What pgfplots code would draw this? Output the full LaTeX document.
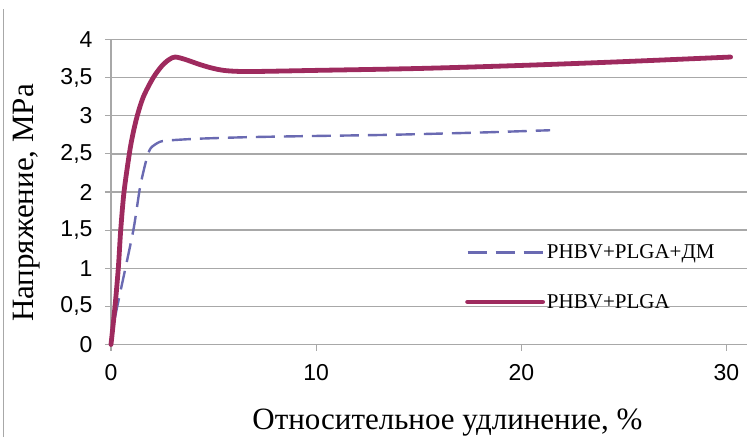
\documentclass[border=0pt]{standalone}
\usepackage{fontspec}
\setmainfont{Liberation Serif}
\newfontfamily\arialfont{Liberation Sans}
\usepackage{pgfplots}
\pgfplotsset{compat=1.18}

\definecolor{plgared}{HTML}{9E2A5E}
\definecolor{dmblue}{HTML}{6A6AB2}
\definecolor{gridgray}{HTML}{A8A8A8}

\begin{document}
\begin{tikzpicture}[x=1pt,y=1pt]
\useasboundingbox (0,0) rectangle (749,437);
% frame edge on the left
\draw[gridgray, line width=1.5pt] (3.5,0) -- (3.5,428);
\begin{axis}[
  at={(111pt,92.5pt)}, anchor=south west,
  scale only axis, width=636pt, height=305pt,
  xmin=0, xmax=31, ymin=0, ymax=4,
  axis x line*=bottom, axis y line*=left,
  axis line style={gridgray, line width=1.3pt},
  xtick={0,10,20,30},
  ytick={0,0.5,1,1.5,2,2.5,3,3.5,4},
  ymajorgrids, grid style={gridgray, line width=1.3pt},
  tick align=outside, major tick length=6pt,
  tick style={gridgray, line width=1.2pt},
  ticklabel style={font=\arialfont\fontsize{23}{27}\selectfont},
  yticklabel style={xshift=-9pt},
  xticklabel style={yshift=-10pt},
  /pgf/number format/assume math mode=true,
  /pgf/number format/use comma,
  xlabel={Относительное удлинение, \%},
  ylabel={Напряжение, МРа},
  label style={font=\fontsize{31}{36}\selectfont},
  xlabel style={at={(axis description cs:0.529,-0.2803)}, anchor=base},
  ylabel style={at={(axis description cs:-0.1226,0.464)}, anchor=base},
  legend style={at={(axis description cs:0.5566,0.334)}, anchor=north west,
    draw=none, fill=none, inner sep=0pt, row sep=30pt, column sep=0pt,
    font=\fontsize{21}{25}\selectfont},
  legend cell align=left,
  legend image code/.code={\draw[#1] (0pt,0pt) -- (75pt,0pt);},
  clip=false,
]
\addplot[dmblue, line width=2.4pt, dash pattern=on 19pt off 9pt, smooth, tension=0.4]
  coordinates {
  (0,0) (0.2,0.36) (0.44,0.67) (1.09,1.5) (1.42,2.07) (1.75,2.45)
  (1.95,2.58) (2.4,2.66) (3,2.68) (4.35,2.70) (6.8,2.72) (10,2.735)
  (13.6,2.75) (18,2.78) (21.4,2.81)
  };
\addlegendentry{PHBV+PLGA+ДМ}
\addplot[plgared, line width=4.8pt, smooth, tension=0.5, line cap=round]
  coordinates {
  (0,0) (0.195,0.5) (0.356,1.0) (0.473,1.5) (0.634,2.0) (0.893,2.5)
  (1.06,2.75) (1.28,3.0) (1.58,3.25) (2.06,3.5) (2.5,3.66) (2.85,3.74)
  (3.13,3.77) (3.6,3.74) (4.35,3.67) (5.0,3.62) (5.66,3.59) (6.8,3.58)
  (10,3.595) (15,3.62) (20,3.66) (25,3.71) (30.2,3.77)
  };
\addlegendentry{PHBV+PLGA}
\end{axis}
\end{tikzpicture}
\end{document}
